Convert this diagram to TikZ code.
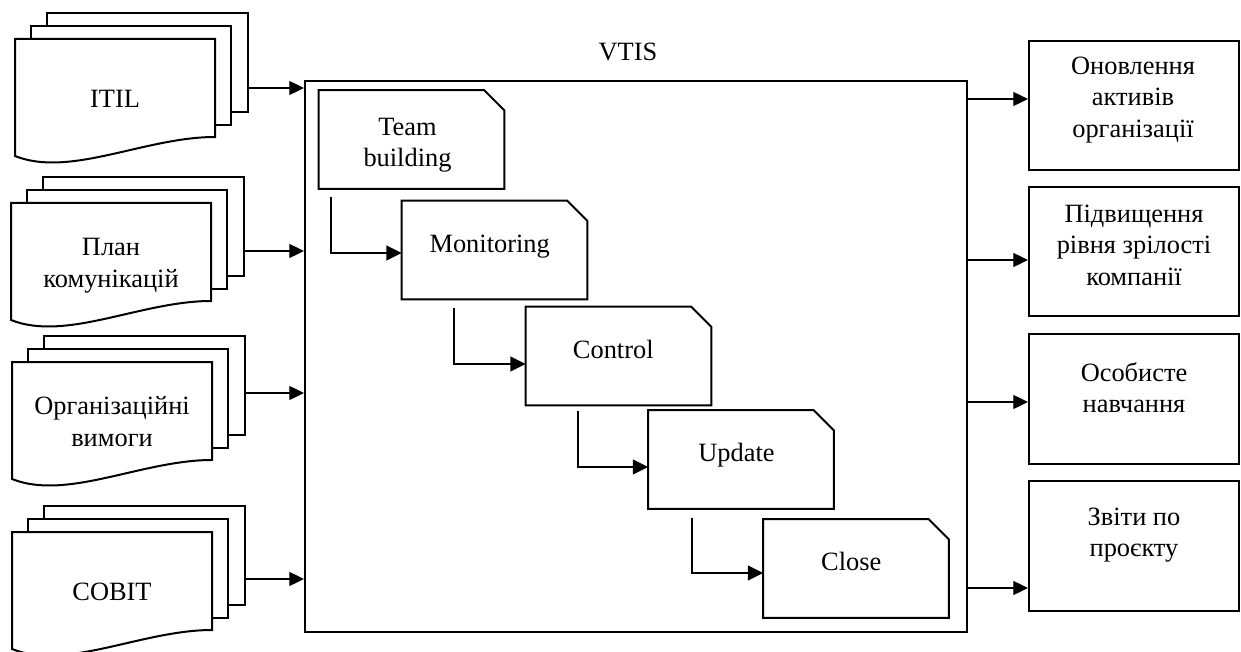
\documentclass[tikz,border=0pt]{standalone}
\usepackage{fontspec}
\setmainfont{Liberation Serif}
\usetikzlibrary{arrows.meta,calc}
\newcommand\multidoc[4]{%
  \node[sheet, minimum width=150.75pt] (#1-b) at ({#2+132.5},{#3+23.5}) {};
  \node[sheet, minimum width=150pt] (#1-m) at ({#2+116},{#3+36.5}) {};
  \draw[boxline, fill=white] (#2,{#3+117}) -- (#2,#3) -- ({#2+200},#3) -- ({#2+200},{#3+98})
     .. controls ({#2+130},{#3+98}) and ({#2+55},{#3+139}) .. (#2,{#3+117}) -- cycle;
  \node[txt] (#1) at ({#2+100},{#3+62}) {#4};
}
\begin{document}
\begin{tikzpicture}[x=0.75pt,y=-0.75pt,
  font=\fontsize{19.8}{23.6}\selectfont,
  boxline/.style={line width=1.5pt},
  sheet/.style={draw, line width=1.5pt, fill=white, inner sep=0pt, minimum height=74.25pt},
  txt/.style={align=center, inner sep=0pt},
  arr/.style={line width=0.9pt, -{Triangle[length=11pt,width=10.5pt]}},
  steparr/.style={line width=1.5pt, -{Triangle[length=11.5pt,width=11pt]}},
  stepbox/.style={inner sep=0pt, minimum width=138.75pt, minimum height=73.5pt},
  rbox/.style={draw, line width=1.5pt, inner sep=0pt, minimum width=157.5pt, minimum height=97.1pt},
]
\useasboundingbox (0,0) rectangle (1241,652);

% main box
\node[draw, line width=1.5pt, inner sep=0pt, minimum width=496.5pt, minimum height=413.25pt] (main) at (636,356.5) {};
\node[txt] (vtis) at (628,54.4) {\strut VTIS};

% inputs
\multidoc{itil}{15}{39}{\strut ITIL}
\multidoc{plan}{11}{203}{\strut План\\\strut комунікацій}
\multidoc{org}{12}{362}{\strut Організаційні\\\strut вимоги}
\multidoc{cobit}{12}{532}{\strut COBIT}

\coordinate (itil-o) at ($(itil-b.east)+(0,25.5)$);
\coordinate (plan-o) at ($(plan-b.east)+(0,24.5)$);
\coordinate (org-o) at ($(org-b.east)+(0,7.5)$);
\coordinate (cobit-o) at ($(cobit-b.east)+(0,23.5)$);
\foreach \n in {itil,plan,org,cobit}
  \draw[arr] (\n-o) -- (\n-o -| main.west);

% steps
\node[stepbox] (tb) at (411.5,139.5) {};
\node[stepbox] (mon) at (494.5,250) {};
\node[stepbox] (ctl) at (618.5,356) {};
\node[stepbox] (upd) at (741,459.5) {};
\node[stepbox] (cls) at (856,568.5) {};
\foreach \n in {tb,mon,ctl,upd,cls}
  \draw[boxline] (\n.south west) -- (\n.north west) -- ($(\n.north east)+(-20,0)$)
     -- ($(\n.north east)+(0,20)$) -- (\n.south east) -- cycle;
\node[txt] (tb-t) at (407.5,144.7) {\strut Team\\\strut building};
\node[txt] (mon-t) at (489.7,246.7) {\strut Monitoring};
\node[txt] (ctl-t) at (613.3,352.7) {\strut Control};
\node[txt] (upd-t) at (736.5,455.7) {\strut Update};
\node[txt] (cls-t) at (851.2,564.7) {\strut Close};

\draw[steparr] ($(tb.south west)+(12,8)$) |- ($(mon.west)+(0,3)$);
\draw[steparr] ($(mon.south west)+(52,9)$) |- ($(ctl.west)+(0,8)$);
\draw[steparr] ($(ctl.south west)+(52,6)$) |- ($(upd.west)+(0,7.5)$);
\draw[steparr] ($(upd.south west)+(44,9)$) |- ($(cls.west)+(0,4.5)$);

% outputs
\node[rbox] (r1) at (1134,105.5) {};
\node[rbox] (r2) at (1134,251.5) {};
\node[rbox] (r3) at (1134,399) {};
\node[rbox] (r4) at (1134,546) {};
\node[txt] (r1-t) at (1133,99.7) {\strut Оновлення\\\strut активів\\\strut організації};
\node[txt] (r2-t) at (1134,247.4) {\strut Підвищення\\\strut рівня зрілості\\\strut компанії};
\node[txt] (r3-t) at (1134,390.7) {\strut Особисте\\\strut навчання};
\node[txt] (r4-t) at (1134,534.7) {\strut Звіти по\\\strut проєкту};

\coordinate (r1-i) at ($(r1.west)+(0,-6.5)$);
\coordinate (r2-i) at ($(r2.west)+(0,8.5)$);
\coordinate (r3-i) at ($(r3.west)+(0,3)$);
\coordinate (r4-i) at ($(r4.west)+(0,42)$);
\foreach \n in {r1,r2,r3,r4}
  \draw[arr] (\n-i -| main.east) -- (\n-i);
\end{tikzpicture}
\end{document}
